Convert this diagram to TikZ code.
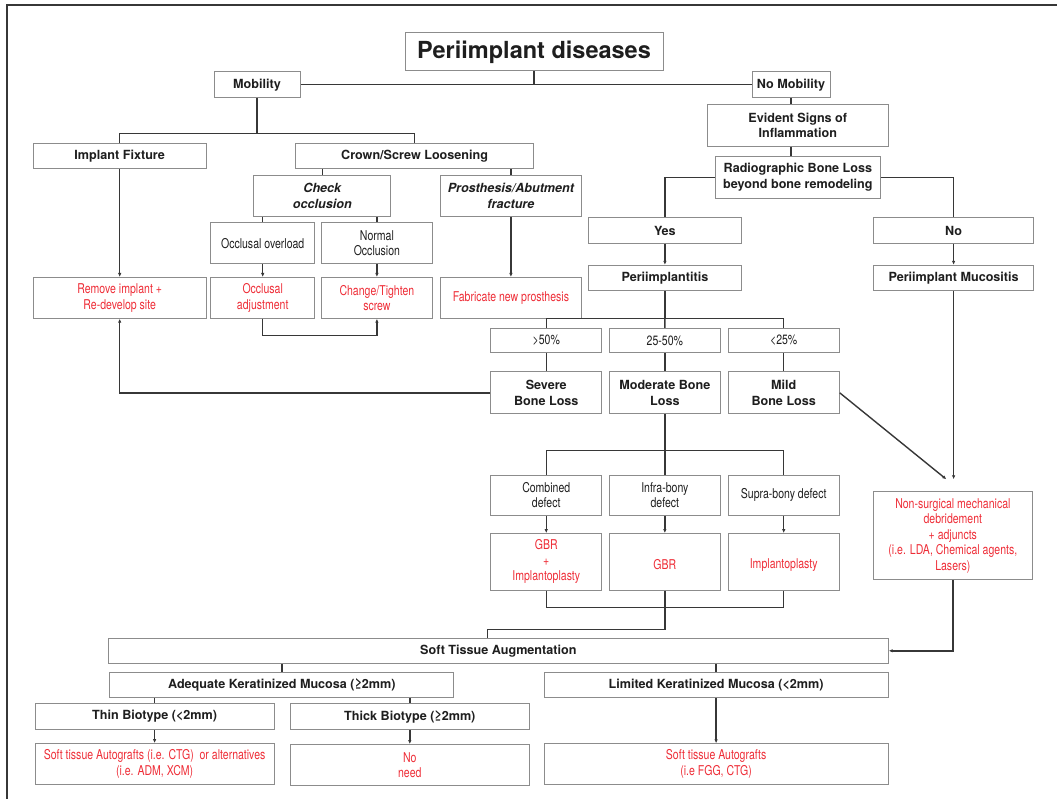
\documentclass[tikz,border=0pt]{standalone}
\usepackage{fontspec}
\setmainfont{TeX Gyre Heros}
\newfontfamily\cnd[FakeStretch=0.78]{TeX Gyre Heros}
\usetikzlibrary{arrows.meta}
\definecolor{redtxt}{RGB}{238,45,55}
\definecolor{boxline}{RGB}{140,140,140}
\definecolor{conn}{RGB}{55,55,55}
\definecolor{txt}{RGB}{30,30,30}
\tikzset{
 box/.style={draw=boxline, line width=1.0pt, inner sep=0pt, align=center, text=txt},
 bold/.style={box, font=\fontsize{12.6}{15.8}\selectfont\bfseries},
 bi/.style={box, font=\fontsize{12.6}{15.8}\selectfont\bfseries\itshape},
 reg/.style={box, font=\cnd\fontsize{13.5}{15.5}\selectfont},
 redbox/.style={reg, text=redtxt},
 ln/.style={draw=conn, line width=1.4pt},
 arr/.style={ln, -{Latex[length=4pt,width=3.5pt]}},
}
\newcommand\bx[7]{\node[#6, minimum width={(#4)-(#2)}, minimum height={(#5)-(#3)}] (#1) at ({((#2)+(#4))/2},{((#3)+(#5))/2}) {#7};}
\begin{document}
\begin{tikzpicture}[x=1pt,y=-1pt]
\useasboundingbox (0,0) rectangle (1057,799);
\draw[conn, line width=2pt] (7,799) -- (7,5) -- (1057,5);
% nodes
\bx{title}{405}{33}{663}{71}{box, font=\fontsize{23.5}{28}\selectfont\bfseries}{Periimplant diseases}
\bx{mob}{214}{72}{300}{97.5}{bold}{Mobility}
\bx{nomob}{752}{72}{830}{97.5}{bold}{No Mobility}
\bx{fix}{33.4}{144}{206}{169}{bold}{Implant Fixture}
\bx{crown}{295.5}{144}{533.7}{169}{bold}{Crown/Screw Loosening}
\bx{chk}{253.8}{175.3}{390.8}{216.3}{bi}{Check\\occlusion}
\bx{pros}{440.8}{175.3}{581}{216.3}{bi}{Prosthesis/Abutment\\fracture}
\bx{ovl}{210.7}{223}{314.7}{263.8}{reg}{Occlusal overload}
\bx{nor}{321.3}{223}{432.5}{263.8}{reg}{Normal\\Occlusion}
\bx{rem}{33.4}{277.5}{206}{318.2}{redbox}{Remove implant +\\Re-develop site}
\bx{adj}{210.7}{277.5}{314.7}{318.2}{redbox}{Occlusal\\adjustment}
\bx{tig}{321.3}{277.5}{432.5}{318.2}{redbox}{Change/Tighten\\screw}
\bx{fab}{440.8}{277.5}{581}{318.2}{redbox}{Fabricate new prosthesis}
\bx{evi}{707.3}{104.5}{888.2}{146.2}{bold}{Evident Signs of\\Inflammation}
\bx{rad}{715.2}{156.5}{880.6}{198.3}{bold}{Radiographic Bone Loss\\beyond bone remodeling}
\bx{yes}{588.2}{217.8}{741.6}{243.2}{bold}{Yes}
\bx{no}{873.8}{217.8}{1033.4}{243.2}{bold}{No}
\bx{pit}{588.2}{265.4}{741.6}{290.8}{bold}{Periimplantitis}
\bx{muc}{873.8}{265.4}{1033.4}{290.8}{bold}{Periimplant Mucositis}
\bx{p50}{490.7}{328.4}{601.8}{352.7}{reg}{>50\%}
\bx{p25}{609.4}{328.4}{720.3}{352.7}{reg}{25-50\%}
\bx{p0}{728.2}{328.4}{839.2}{352.7}{reg}{<25\%}
\bx{sev}{490.7}{371.9}{601.8}{413.7}{bold}{Severe\\Bone Loss}
\bx{mod}{609.4}{371.9}{720.3}{413.7}{bold}{Moderate Bone\\Loss}
\bx{mil}{728.2}{371.9}{839.2}{413.7}{bold}{Mild\\Bone Loss}
\bx{cmb}{490.7}{475}{601.8}{515.4}{reg}{Combined\\defect}
\bx{inf}{609.4}{475}{720.3}{515.4}{reg}{Infra-bony\\defect}
\bx{sup}{728.2}{475}{839.2}{515.4}{reg}{Supra-bony defect}
\bx{gbri}{490.7}{533.6}{601.8}{590}{redbox}{GBR\\+\\Implantoplasty}
\bx{gbr}{609.4}{533.6}{720.3}{590}{redbox}{\mbox{}\\GBR}
\bx{impl}{728.2}{533.6}{839.2}{590}{redbox}{\mbox{}\\Implantoplasty}
\bx{nsm}{873}{491.4}{1032.7}{579.8}{redbox}{Non-surgical mechanical\\debridement\\+ adjuncts\\(i.e. LDA, Chemical agents,\\Lasers)}
\bx{sta}{108.5}{638.2}{888.2}{663.4}{bold}{Soft Tissue Augmentation}
\bx{adq}{109.8}{672}{453.9}{697.5}{bold}{Adequate Keratinized Mucosa (≥2mm)}
\bx{lim}{544}{672}{888.2}{697.5}{bold}{Limited Keratinized Mucosa (<2mm)}
\bx{thin}{35.1}{703.7}{274.1}{729.5}{bold}{Thin Biotype (<2mm)}
\bx{thick}{290.3}{703.7}{529.3}{729.5}{bold}{Thick Biotype (≥2mm)}
\bx{thinr}{35.1}{743.6}{274.1}{784.2}{redbox}{Soft tissue Autografts (i.e. CTG)\ \ or alternatives\\(i.e. ADM, XCM)}
\bx{thickr}{290.3}{744.6}{529.3}{785.6}{redbox}{No\\need}
\bx{limr}{544}{743.8}{888.2}{784.2}{redbox}{Soft tissue Autografts\\(i.e FGG, CTG)}
% connectors
\draw[ln] (title.south) |- (mob.east);
\draw[ln] (title.south) |- (nomob.west);
\draw[ln] (mob.south) -- ++(0,35.8) coordinate (mj);
\draw[ln] (fix.north) |- (mj) -| (crown.north);
\draw[ln] (crown.south -| chk.north) -- (chk.north);
\draw[ln] (crown.south -| pros.north) -- (pros.north);
\draw[ln] (chk.south -| ovl.north) -- (ovl.north);
\draw[ln] (chk.south -| nor.north) -- (nor.north);
\draw[arr] (ovl) -- (adj);
\draw[arr] (nor) -- (tig);
\draw[arr] (fix) -- (rem);
\draw[arr] (pros) -- (fab);
\draw[arr] (adj.south) -- ++(0,16.9) -| (tig.south);
\draw[arr] (sev.west) -| (rem.south);
\draw[ln] (nomob.south) -- (nomob.south |- evi.north);
\draw[ln] (evi.south -| nomob.south) -- (rad.north -| nomob.south);
\draw[ln] (rad.west) -| (yes.north);
\draw[ln] (rad.east) -| (no.north);
\draw[arr] (yes) -- (pit);
\draw[arr] (no) -- (muc);
\draw[ln] (pit.south) -- ++(0,27.4) coordinate (pj);
\draw[ln] (p50.north) |- (pj) -| (p0.north);
\draw[ln] (pj) -- (p25.north);
\draw[ln] (p50) -- (sev);
\draw[ln] (p25) -- (mod);
\draw[ln] (p0) -- (mil);
\draw[ln] (mod.south) -- ++(0,36.3) coordinate (mj2);
\draw[ln] (cmb.north) |- (mj2) -| (sup.north);
\draw[ln] (mj2) -- (inf.north);
\draw[arr] (cmb) -- (gbri);
\draw[arr] (inf) -- (gbr);
\draw[arr] (sup) -- (impl);
\draw[ln] (gbri.south) -- ++(0,16.8) -| (impl.south);
\draw[ln] (gbr.south) -- ++(0,38.8) -| ([xshift=-11pt]sta.north);
\draw[arr] (mil.east) -- ([xshift=-6.5pt,yshift=11.6pt]nsm.north);
\draw[arr, shorten >=11.6pt] (muc) -- (muc |- nsm.north);
\draw[arr] (nsm.south) |- (sta.east);
\draw[ln] (adq.north |- sta.south) -- (adq.north);
\draw[ln] (lim.north |- sta.south) -- (lim.north);
\draw[ln] (thin.north |- adq.south) -- (thin.north);
\draw[ln] (thick.north |- adq.south) -- (thick.north);
\draw[arr] (thin) -- (thinr);
\draw[arr] (thick) -- (thickr);
\draw[arr] (lim) -- (limr);
\end{tikzpicture}
\end{document}
